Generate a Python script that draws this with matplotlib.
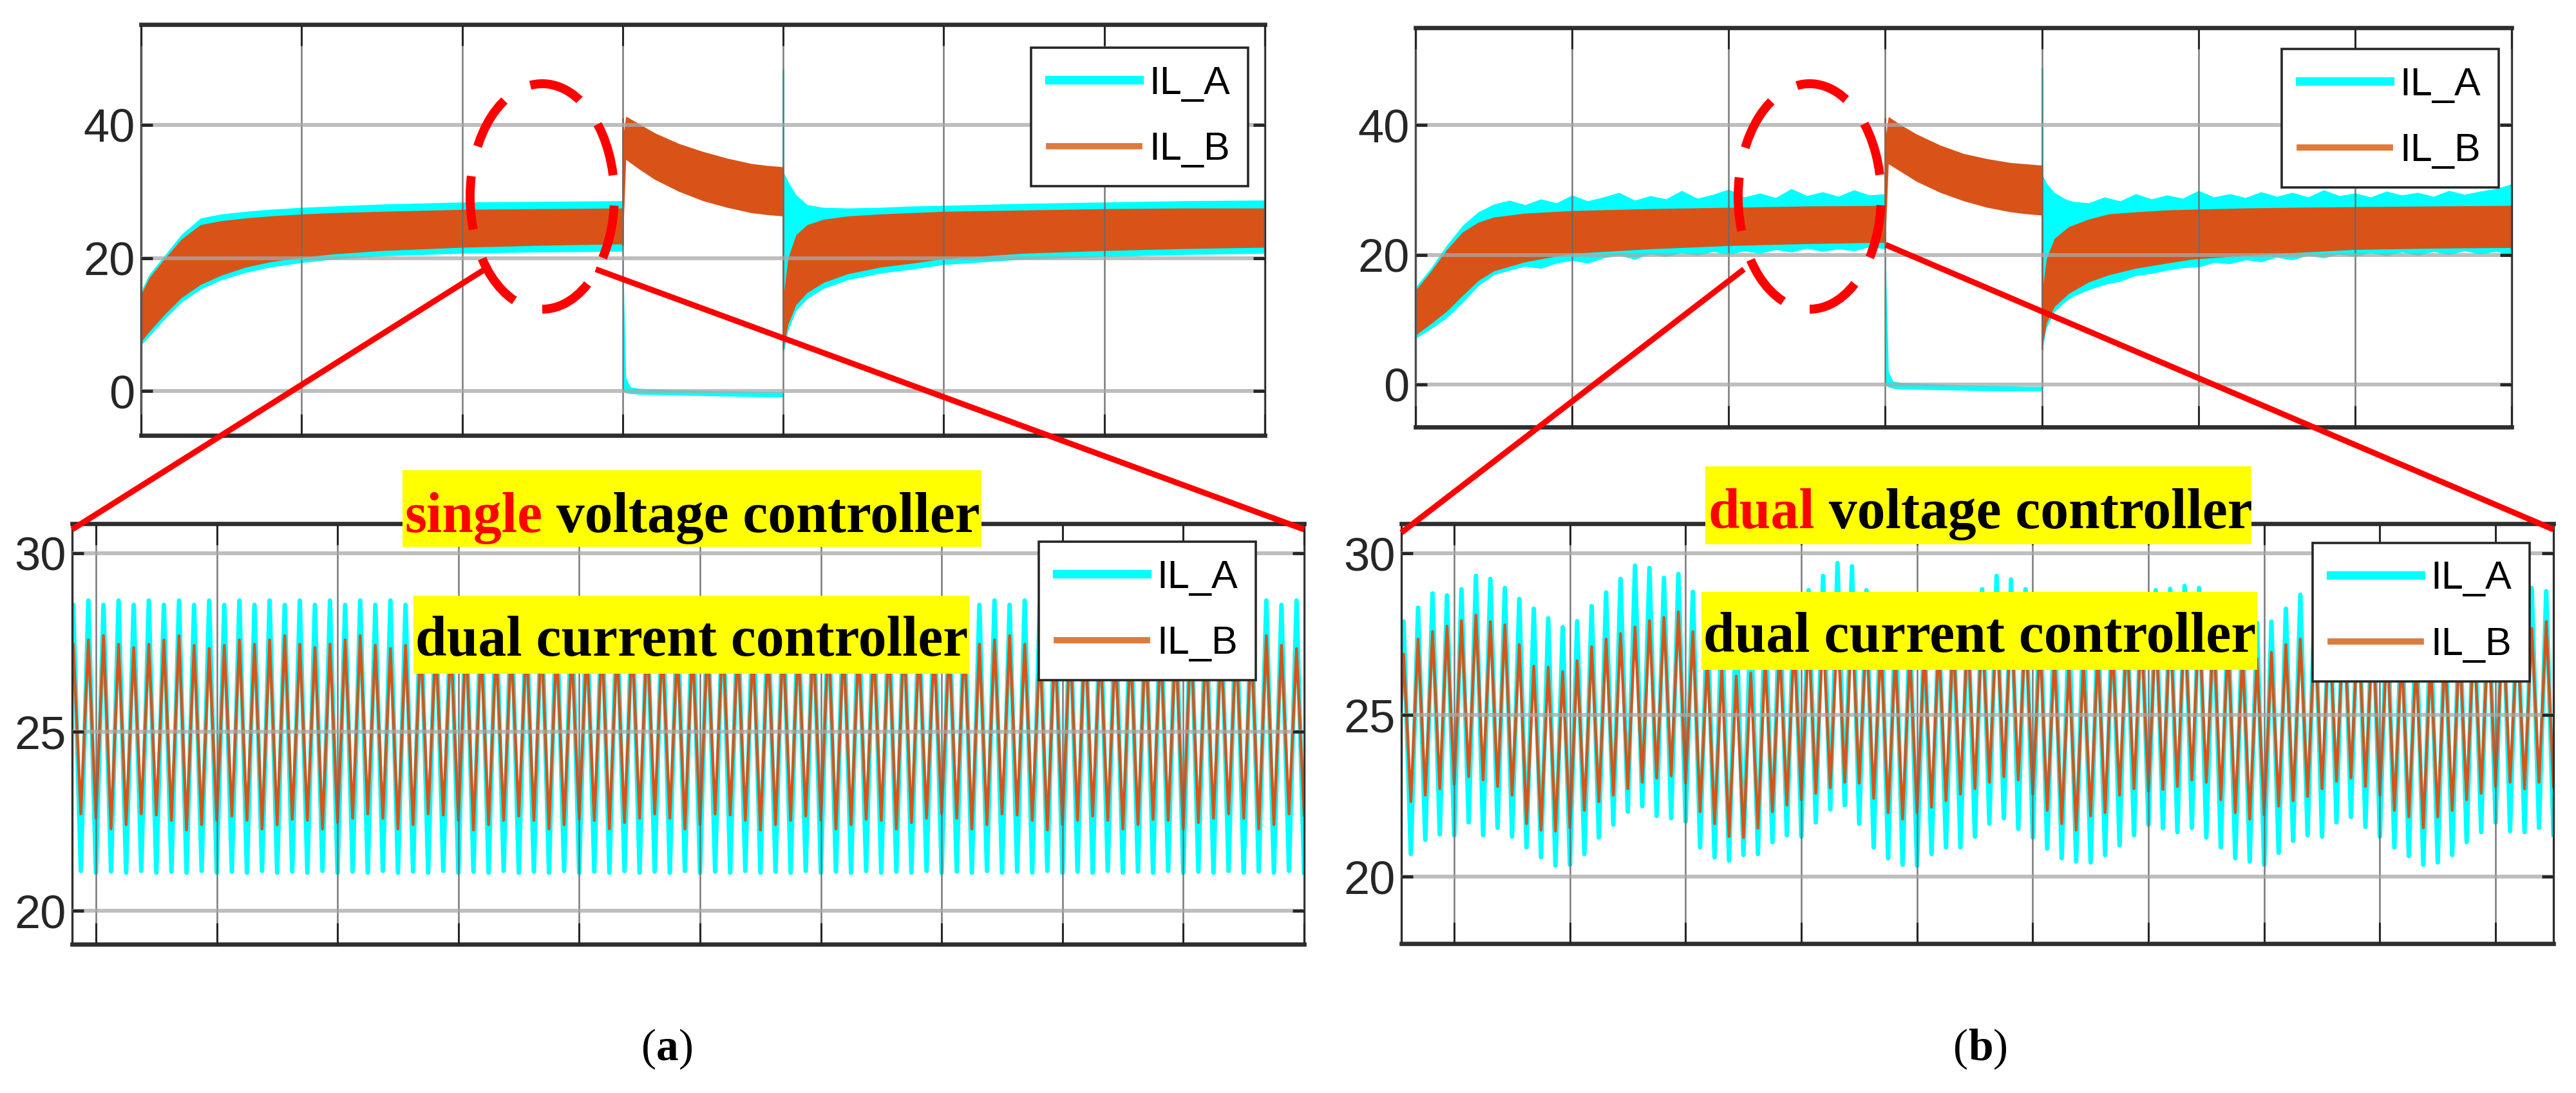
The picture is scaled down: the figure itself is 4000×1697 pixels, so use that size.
import numpy as np
import matplotlib
matplotlib.use("Agg")
import matplotlib.pyplot as plt
from matplotlib import font_manager
from matplotlib.lines import Line2D
from matplotlib.patches import Ellipse, Rectangle

# ---------------------------------------------------------------- data
# top panels: band envelopes (x in grid divisions, 0..7)
# (a) single voltage controller
ta_x1 = [0, 0.05, 0.15, 0.25, 0.37, 0.5, 0.65, 0.8, 1.0, 1.2, 1.5, 2.0, 2.5, 3.0]
ta_A_up1 = [15.0, 17.5, 20.5, 23.5, 26.0, 26.6, 27.0, 27.3, 27.6, 27.8, 28.1, 28.4, 28.5, 28.6]
ta_A_lo1 = [6.9, 8.2, 10.9, 13.3, 15.3, 16.7, 17.8, 18.6, 19.3, 19.8, 20.3, 20.7, 20.9, 21.0]
ta_B_up1 = [14.5, 17.0, 20.0, 22.8, 25.0, 25.6, 26.0, 26.3, 26.6, 26.8, 27.0, 27.3, 27.4, 27.5]
ta_B_lo1 = [7.4, 8.9, 11.6, 14.0, 16.0, 17.4, 18.6, 19.4, 20.1, 20.6, 21.1, 21.6, 21.9, 22.1]

ta_x2 = [3.0, 3.02, 3.05, 3.1, 3.3, 3.5, 3.7, 3.9, 4.0]
ta_A_up2 = [21.8, 2.0, 0.6, 0.4, 0.2, 0.1, 0.0, -0.1, -0.1]
ta_A_lo2 = [0.0, -0.3, -0.4, -0.5, -0.6, -0.7, -0.8, -0.9, -0.9]

ta_x3 = [3.0, 3.02, 3.1, 3.2, 3.35, 3.5, 3.65, 3.8, 3.9, 4.0]
ta_B_up2 = [38.0, 41.3, 40.2, 38.8, 37.2, 36.0, 35.0, 34.2, 33.9, 33.7]
ta_B_lo2 = [22.0, 34.8, 33.4, 31.8, 30.0, 28.6, 27.6, 26.8, 26.5, 26.3]

ta_x4 = [4.0, 4.03, 4.08, 4.15, 4.25, 4.4, 4.6, 4.8, 5.0, 5.5, 6.0, 6.5, 7.0]
ta_A_up3 = [33.0, 31.5, 29.5, 28.0, 27.6, 27.5, 27.6, 27.8, 27.9, 28.2, 28.4, 28.6, 28.7]
ta_A_lo3 = [5.5, 9.1, 12.1, 13.9, 15.4, 16.7, 17.7, 18.3, 19.0, 19.8, 20.2, 20.5, 20.7]
ta_B_up3 = [14.0, 20.0, 23.5, 25.0, 25.8, 26.3, 26.6, 26.8, 27.0, 27.2, 27.4, 27.5, 27.5]
ta_B_lo3 = [6.4, 10.0, 13.0, 14.8, 16.3, 17.6, 18.6, 19.2, 19.9, 20.7, 21.1, 21.4, 21.6]

# thin vertical spikes: (x, low, high)
ta_spikes_A = [(0.0, 7.0, 32.0), (4.0, 10.0, 48.2)]
ta_spikes_B = [(0.0, 7.4, 29.0), (3.0, 22.0, 41.0), (4.0, 6.4, 33.7)]

# (b) dual voltage controller (jagged envelopes, sampled every 0.1 division)
tb_xA1 = np.round(np.arange(0, 3.01, 0.1), 2)
tb_A_up1 = [15.0, 18.0, 21.5, 24.5, 26.6, 27.8, 28.4, 27.7, 28.6, 28.0, 29.2, 28.3, 28.9, 29.6, 28.4, 29.1,
            28.6, 29.9, 28.7, 29.3, 30.1, 28.9, 29.5, 28.8, 30.2, 29.1, 29.7, 29.0, 30.0, 29.2, 29.4]
tb_A_lo1 = [7.1, 8.6, 10.3, 12.6, 15.2, 16.9, 17.6, 18.2, 17.9, 18.7, 19.1, 18.7, 19.5, 19.9, 19.3, 20.1,
            19.7, 20.3, 19.9, 20.5, 20.0, 20.6, 20.2, 20.8, 20.4, 21.0, 20.5, 20.9, 20.6, 21.2, 20.9]
tb_xB1 = [0, 0.1, 0.2, 0.3, 0.4, 0.5, 0.7, 1.0, 1.5, 2.0, 2.5, 3.0]
tb_B_up1 = [14.5, 17.5, 20.8, 23.5, 25.0, 25.8, 26.4, 26.8, 27.1, 27.3, 27.5, 27.6]
tb_B_lo1 = [7.6, 9.4, 11.3, 13.7, 16.0, 17.5, 18.9, 20.2, 20.9, 21.4, 21.7, 21.9]

tb_x2 = [3.0, 3.02, 3.05, 3.1, 3.3, 3.5, 3.7, 3.9, 4.0]
tb_A_up2 = [21.5, 2.0, 0.5, 0.3, 0.1, -0.1, -0.2, -0.3, -0.3]
tb_A_lo2 = [0.0, -0.4, -0.6, -0.7, -0.8, -0.9, -1.0, -1.0, -1.0]

tb_x3 = [3.0, 3.02, 3.1, 3.2, 3.35, 3.5, 3.65, 3.8, 3.9, 4.0]
tb_B_up2 = [38.0, 41.3, 40.0, 38.6, 36.9, 35.6, 34.8, 34.2, 34.0, 33.8]
tb_B_lo2 = [21.8, 34.0, 32.8, 31.3, 29.6, 28.3, 27.3, 26.6, 26.3, 26.1]

tb_xA3 = np.concatenate([[4.0, 4.03, 4.08, 4.15, 4.2], np.round(np.arange(4.3, 7.01, 0.1), 2)])
tb_A_up3 = [32.5, 31.0, 29.6, 28.6, 28.2,
            28.0, 28.9, 28.3, 29.4, 28.6, 29.2, 28.7, 29.9, 28.9, 29.4, 28.8, 29.7, 29.0, 29.6,
            28.9, 30.0, 29.1, 29.5, 28.9, 29.8, 29.2, 29.6, 29.0, 29.9, 29.3, 29.8, 30.2, 30.9]
tb_A_lo3 = [5.0, 8.8, 11.2, 12.8, 13.6,
            14.6, 15.4, 15.9, 16.8, 17.1, 17.6, 18.0, 18.1, 18.8, 18.6, 19.2, 18.9, 19.6, 19.2,
            19.9, 19.5, 20.1, 19.7, 20.3, 19.8, 20.4, 19.9, 20.5, 20.0, 20.6, 20.1, 20.5, 19.9]
tb_xB3 = [4.0, 4.03, 4.08, 4.17, 4.3, 4.43, 4.6, 4.8, 4.96, 5.3, 5.6, 6.0, 6.5, 7.0]
tb_B_up3 = [14.0, 19.5, 22.5, 24.3, 25.5, 26.3, 26.6, 26.9, 27.0, 27.2, 27.3, 27.4, 27.5, 27.6]
tb_B_lo3 = [5.6, 9.5, 12.0, 14.0, 15.8, 16.9, 17.9, 18.7, 19.3, 19.9, 20.3, 20.8, 21.0, 21.1]

tb_spikes_A = [(0.0, 7.1, 31.9), (4.0, 10.0, 48.6)]
tb_spikes_B = [(0.0, 7.6, 29.0), (3.0, 21.8, 41.0), (4.0, 5.6, 33.8)]

# bottom (a): steady ripple, 8 switching cycles per division; repeating patterns read per cycle
ba_first_cycle = -2
ba_n_cycles = 82
ba_A_peak_pat = [28.55, 28.67]
ba_A_trough_pat = [21.07, 21.12, 21.07, 21.10]
ba_B_peak_pat = [27.45, 27.57, 27.69, 27.45, 27.36, 27.45, 27.57, 27.69, 27.42, 27.33, 27.42, 27.57]
ba_B_trough_pat = [22.59, 22.71, 22.59, 22.29, 22.41, 22.71, 22.68, 22.53, 22.26, 22.41,
                   22.53, 22.65, 22.53, 22.29, 22.41, 22.56, 22.53, 22.29, 22.47]

# bottom (b): cycle-by-cycle values, troughs k=-4..76, peaks between them
bb_first_cycle = -4
bb_A_troughs = [20.90, 20.70, 21.14, 21.31, 21.28, 21.68, 21.28, 21.51, 21.24, 20.91,
                20.60, 20.34, 20.37, 20.70, 21.21, 21.61, 22.01, 22.18, 21.88, 21.81,
                21.71, 20.91, 20.60, 20.50, 20.67, 20.70, 21.07, 21.28, 21.24, 21.68,
                22.08, 22.21, 21.64, 20.91, 20.57, 20.37, 20.34, 20.70, 20.91, 20.91,
                21.24, 21.64, 21.81, 21.48, 21.21, 20.87, 20.57, 20.47, 20.44, 20.67,
                20.97, 21.28, 21.61, 21.50, 21.38, 21.51, 21.21, 20.91, 20.57, 20.47,
                20.37, 20.74, 21.11, 21.28, 21.24, 21.68, 21.85, 21.54, 21.24, 20.91,
                20.64, 20.37, 20.44, 20.67, 21.07, 21.38, 21.68, 21.41, 21.38, 21.51,
                21.30]
bb_B_troughs = [22.10, 22.32, 22.52, 22.72, 22.85, 23.09, 22.99, 22.79, 22.52, 21.64,
                21.44, 21.41, 21.51, 22.05, 22.32, 22.52, 22.72, 22.92, 23.05, 23.12,
                22.89, 22.01, 21.64, 21.24, 21.21, 21.50, 22.01, 22.21, 22.38, 22.58,
                22.75, 22.92, 22.89, 22.42, 21.98, 21.78, 21.98, 22.15, 22.35, 22.55,
                22.72, 22.92, 23.09, 22.99, 22.55, 22.05, 21.64, 21.44, 21.88, 21.98,
                22.52, 22.72, 22.65, 22.70, 22.79, 22.99, 22.92, 22.38, 21.98, 21.78,
                21.91, 22.18, 22.35, 22.48, 22.72, 22.95, 23.05, 22.79, 22.52, 22.05,
                21.85, 21.51, 21.85, 22.05, 22.38, 22.58, 22.79, 22.92, 22.72, 22.92,
                22.80]
bb_A_peaks = [27.89, 28.32, 28.76, 28.70, 28.89, 29.30, 29.21, 28.93, 28.59, 28.29,
              27.99, 27.72, 27.90, 28.37, 28.79, 29.21, 29.62, 29.55, 29.24, 29.36,
              28.81, 28.20, 28.00, 28.00, 28.10, 28.30, 28.60, 28.70, 28.86, 29.30,
              29.70, 29.60, 28.86, 28.60, 28.20, 27.90, 27.80, 27.95, 28.25, 28.35,
              28.89, 29.30, 29.19, 28.89, 28.50, 28.20, 27.95, 27.90, 28.00, 28.30,
              28.55, 28.70, 28.86, 28.90, 28.99, 28.93, 28.50, 28.20, 27.95, 27.85,
              27.89, 28.29, 28.72, 28.70, 28.90, 29.20, 29.15, 28.85, 28.50, 28.20,
              27.95, 27.85, 28.00, 28.30, 28.65, 28.95, 29.00, 28.79, 28.93, 28.83]
bb_B_peaks = [26.88, 27.35, 27.58, 27.75, 27.92, 28.09, 27.89, 27.79, 27.18, 26.51,
              26.48, 26.34, 26.68, 27.11, 27.35, 27.52, 27.72, 27.92, 28.02, 28.19,
              27.58, 26.80, 26.45, 26.20, 26.30, 26.75, 27.10, 27.30, 27.50, 27.65,
              27.85, 27.90, 27.65, 27.20, 26.90, 26.90, 27.05, 27.25, 27.45, 27.65,
              27.80, 28.00, 28.05, 27.75, 27.30, 26.85, 26.55, 26.65, 26.95, 27.25,
              27.60, 27.70, 27.70, 27.75, 27.90, 27.95, 27.65, 27.20, 26.90, 26.74,
              26.94, 27.18, 27.35, 27.60, 27.85, 28.00, 27.90, 27.65, 27.30, 26.95,
              26.70, 26.70, 26.95, 27.20, 27.50, 27.70, 27.85, 27.55, 27.68, 27.89]

series_names = ["IL_A", "IL_B"]
CYAN = "#00FFFF"
ORANGE = "#D95319"

# ---------------------------------------------------------------- helpers
W, H = 4000, 1697


def pick_font(*names):
    avail = {f.name for f in font_manager.fontManager.ttflist}
    for n in names:
        if n in avail:
            return n
    return "DejaVu Sans"


SANS = pick_font("Liberation Sans Narrow", "Liberation Sans")
SERIF = pick_font("Liberation Serif", "DejaVu Serif")


def px_axes(fig, x0, y0, x1, y1):
    return fig.add_axes([x0 / W, 1 - y1 / H, (x1 - x0) / W, (y1 - y0) / H])


def style_axes(ax, xlim, ylim, xticks, yticks):
    ax.set_xlim(*xlim)
    ax.set_ylim(*ylim)
    ax.set_xticks(xticks)
    ax.set_xticklabels([])
    ax.set_yticks(yticks)
    ax.tick_params(axis="x", direction="in", length=24, width=2.2, top=True, bottom=True,
                   color="#262626")
    ax.tick_params(axis="y", direction="in", length=13, width=3.5, left=True, right=True,
                   color="#262626", labelsize=52, labelcolor="#262626", pad=7)
    for lab in ax.get_yticklabels():
        lab.set_fontfamily(SANS)
    ax.set_axisbelow(False)
    ax.grid(True, axis="x", color="#6a6a6a", lw=1.8, alpha=0.9)
    ax.grid(True, axis="y", color="#a8a8a8", lw=4.3, alpha=0.75)
    for s in ("top", "bottom"):
        ax.spines[s].set_linewidth(4.8)
        ax.spines[s].set_color("#2e2e2e")
    for s in ("left", "right"):
        ax.spines[s].set_linewidth(2.4)
        ax.spines[s].set_color("#2e2e2e")


def add_legend(ax, fig, x_px, y_px):
    handles = [Line2D([], [], color=CYAN, lw=9.5), Line2D([], [], color="#E07A3C", lw=7)]
    leg = ax.legend(handles, series_names, loc="upper left",
                    bbox_to_anchor=(x_px / W, 1 - y_px / H), bbox_transform=fig.transFigure,
                    borderaxespad=0, fancybox=False, framealpha=1, edgecolor="#262626",
                    prop={"family": SANS, "size": 44}, handlelength=2.3, handletextpad=0.25,
                    borderpad=0.45, labelspacing=0.75)
    leg.get_frame().set_linewidth(2.6)
    leg.set_zorder(6)


def zigzag(troughs, peaks, first_cycle):
    n = len(peaks)
    k = first_cycle + np.arange(n + 1)
    xs = np.empty(2 * n + 1)
    ys = np.empty(2 * n + 1)
    xs[0::2] = k / 8.0
    xs[1::2] = (k[:-1] + 0.5) / 8.0
    ys[0::2] = troughs[: n + 1]
    ys[1::2] = peaks[:n]
    return xs, ys


def draw_runs(fig, x_px, y_px, runs, ha="left", **common):
    r = fig.canvas.get_renderer()
    texts, widths = [], []
    for s, kw in runs:
        t = fig.text(0, 0, s, **common, **kw)
        texts.append(t)
        widths.append(t.get_window_extent(renderer=r).width)
    x = x_px - (sum(widths) / 2 if ha == "center" else 0)
    for t, w in zip(texts, widths):
        t.set_position((x / W, 1 - y_px / H))
        x += w
    return texts


def top_panel(ax, segA, segB, spikesA, spikesB):
    for xs, up, lo in segA:
        ax.fill_between(xs, lo, up, color=CYAN, lw=0, zorder=1.0)
    for x, lo, hi in spikesA:
        ax.plot([x, x], [lo, hi], color=CYAN, lw=2.2, zorder=1.05)
    for xs, up, lo in segB:
        ax.fill_between(xs, lo, up, color=ORANGE, lw=0, zorder=1.1)
    for x, lo, hi in spikesB:
        ax.plot([x, x], [lo, hi], color=ORANGE, lw=2.0, zorder=1.15)


# ---------------------------------------------------------------- figure
fig = plt.figure(figsize=(W / 100, H / 100), dpi=100)
fig.patch.set_facecolor("white")

# top-left (a)
ax1 = px_axes(fig, 219, 38, 1964, 676)
top_panel(ax1,
          [(ta_x1, ta_A_up1, ta_A_lo1), (ta_x2, ta_A_up2, ta_A_lo2), (ta_x4, ta_A_up3, ta_A_lo3)],
          [(ta_x1, ta_B_up1, ta_B_lo1), (ta_x3, ta_B_up2, ta_B_lo2), (ta_x4, ta_B_up3, ta_B_lo3)],
          ta_spikes_A, ta_spikes_B)
style_axes(ax1, (0, 7), (-6.67, 55.1), np.arange(0, 8), [0, 20, 40])
add_legend(ax1, fig, 1601, 74)

# top-right (b)
ax2 = px_axes(fig, 2198, 43, 3900, 663)
top_panel(ax2,
          [(tb_xA1, tb_A_up1, tb_A_lo1), (tb_x2, tb_A_up2, tb_A_lo2), (tb_xA3, tb_A_up3, tb_A_lo3)],
          [(tb_xB1, tb_B_up1, tb_B_lo1), (tb_x3, tb_B_up2, tb_B_lo2), (tb_xB3, tb_B_up3, tb_B_lo3)],
          tb_spikes_A, tb_spikes_B)
style_axes(ax2, (0, 7), (-6.56, 55.0), np.arange(0, 8), [0, 20, 40])
add_legend(ax2, fig, 3543, 76)

# bottom-left (a) zoom
ax3 = px_axes(fig, 112, 813, 2025, 1466)
ba_A_tr = np.resize(ba_A_trough_pat, ba_n_cycles + 1)
ba_A_pk = np.resize(ba_A_peak_pat, ba_n_cycles)
ba_B_tr = np.resize(ba_B_trough_pat, ba_n_cycles + 1)
ba_B_pk = np.resize(ba_B_peak_pat, ba_n_cycles)
xa, ya = zigzag(ba_A_tr, ba_A_pk, ba_first_cycle)
xb, yb = zigzag(ba_B_tr, ba_B_pk, ba_first_cycle)
ax3.plot(xa, ya, color=CYAN, lw=5.0, zorder=2.0)
ax3.plot(xb, yb, color=ORANGE, lw=3.2, zorder=2.1)
style_axes(ax3, (-0.197, 10), (19.07, 30.82), np.arange(0, 11), [20, 25, 30])
add_legend(ax3, fig, 1613, 841)

# bottom-right (b) zoom
ax4 = px_axes(fig, 2176, 813, 3965, 1465)
xa, ya = zigzag(bb_A_troughs, bb_A_peaks, bb_first_cycle)
xb, yb = zigzag(bb_B_troughs, bb_B_peaks, bb_first_cycle)
ax4.plot(xa, ya, color=CYAN, lw=5.0, zorder=2.0)
ax4.plot(xb, yb, color=ORANGE, lw=3.2, zorder=2.1)
style_axes(ax4, (-0.457, 9.5), (17.93, 30.92), np.arange(0, 10), [20, 25, 30])
add_legend(ax4, fig, 3591, 843)

# ---------------------------------------------------------------- annotations
def fig_line(p0, p1):
    fig.add_artist(Line2D([p0[0] / W, p1[0] / W], [1 - p0[1] / H, 1 - p1[1] / H],
                          transform=fig.transFigure, color="#FF0000", lw=6.5, zorder=4,
                          solid_capstyle="butt"))


def fig_ellipse(cx, cy, w, h):
    fig.add_artist(Ellipse((cx / W, 1 - cy / H), w / W, h / H, transform=fig.transFigure,
                           fill=False, edgecolor="#FF0000", lw=10, linestyle=(0, (6.0, 3.4)),
                           zorder=4))


fig_ellipse(842, 305, 224, 350)
fig_line((753, 418), (112, 822))
fig_line((925, 418), (2025, 822))

fig_ellipse(2810, 305, 222, 350)
fig_line((2708, 418), (2176, 827))
fig_line((2928, 380), (3965, 822))


def yellow_box(x0, y0, x1, y1):
    fig.add_artist(Rectangle((x0 / W, 1 - y1 / H), (x1 - x0) / W, (y1 - y0) / H,
                             transform=fig.transFigure, facecolor="#FFFF00", edgecolor="none",
                             zorder=5))


box_font = dict(family=SERIF, weight="bold", size=63, va="baseline", zorder=6)
yellow_box(625, 730, 1524, 849)
draw_runs(fig, 628, 826, [("single", {"color": "#FF0000"}), (" voltage controller", {"color": "black"})],
          **box_font)
yellow_box(642, 925, 1505, 1046)
draw_runs(fig, 645, 1018, [("dual current controller", {"color": "black"})], **box_font)

yellow_box(2648, 724, 3496, 845)
draw_runs(fig, 2652, 820, [("dual", {"color": "#FF0000"}), (" voltage controller", {"color": "black"})],
          **box_font)
yellow_box(2642, 919, 3505, 1040)
draw_runs(fig, 2645, 1012, [("dual current controller", {"color": "black"})], **box_font)

lab_font = dict(family=SERIF, size=50, va="center", color="black")
draw_runs(fig, 1036, 1629, [("(", {}), ("a", {"weight": "bold"}), (")", {})], ha="center", **lab_font)
draw_runs(fig, 3075, 1629, [("(", {}), ("b", {"weight": "bold"}), (")", {})], ha="center", **lab_font)

fig.savefig("out.png", dpi=100, facecolor="white")
